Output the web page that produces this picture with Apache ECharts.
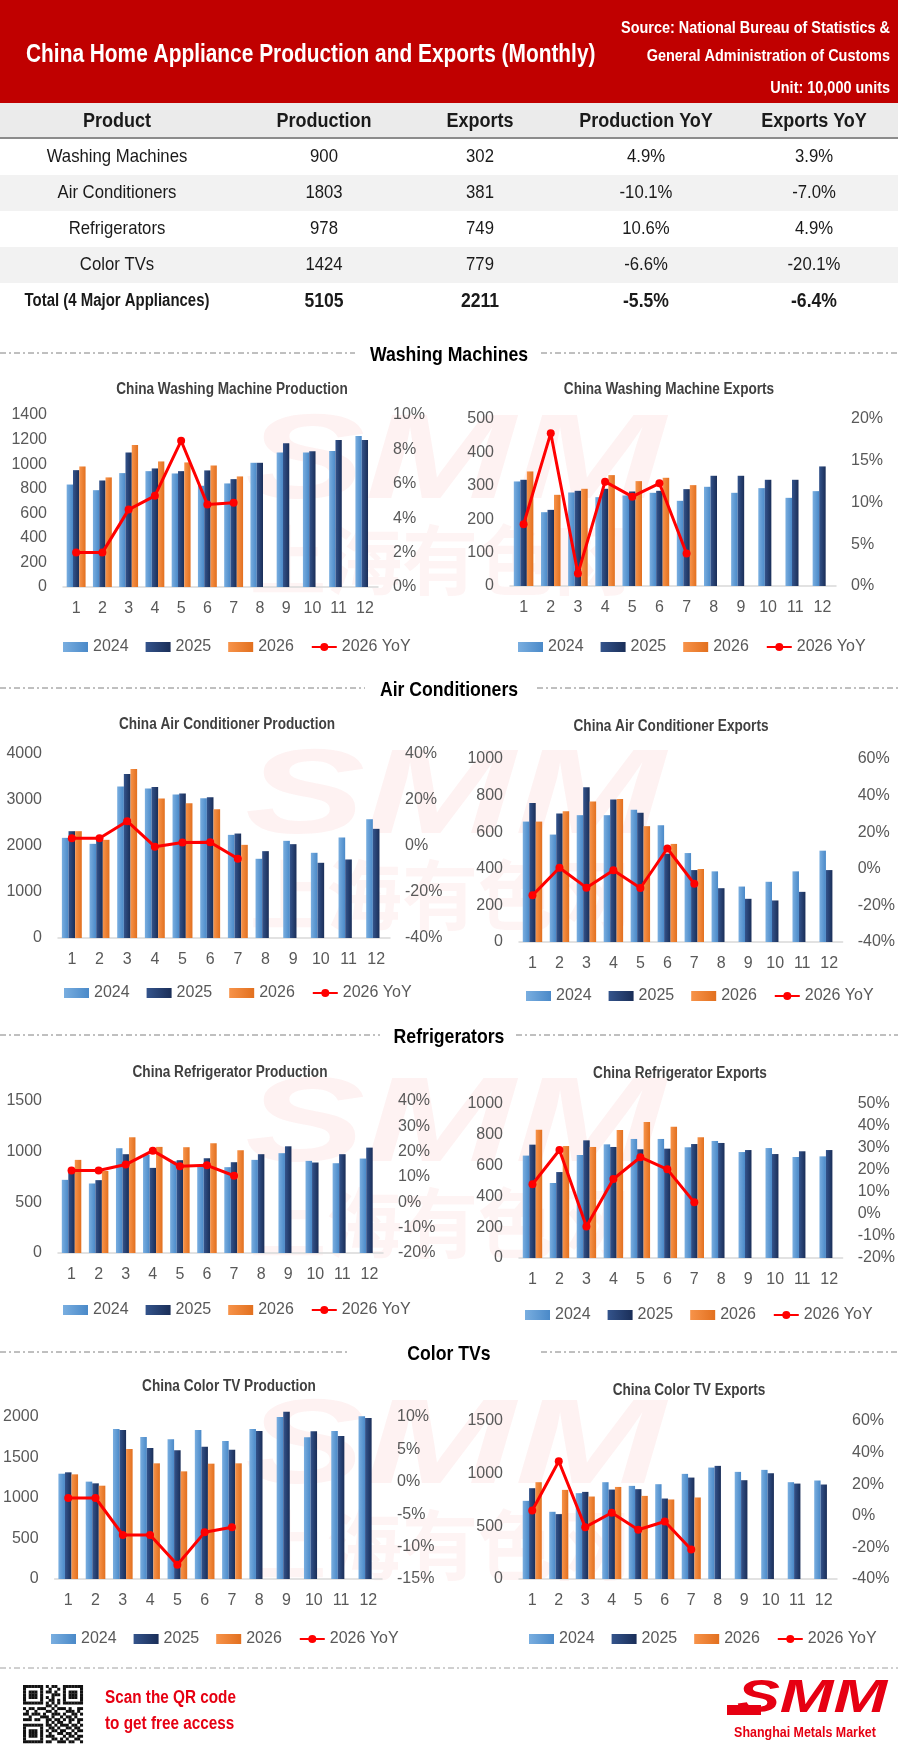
<!DOCTYPE html>
<html>
<head>
<meta charset="utf-8">
<title>China Home Appliance Production and Exports (Monthly)</title>
<script src="https://cdn.jsdelivr.net/npm/echarts@6/dist/echarts.min.js"></script>
<style>
  html, body { margin: 0; padding: 0; background: #fff; }
  #main { width: 898px; height: 1752px; }
</style>
</head>
<body>
<div id="main"></div>
<script>
// months on the x axis
const months = ['1', '2', '3', '4', '5', '6', '7', '8', '9', '10', '11', '12'];
const seriesNames = ['2024', '2025', '2026', '2026 YoY'];

// summary table
const tableHeader = ['Product', 'Production', 'Exports', 'Production YoY', 'Exports YoY'];
const products = ['Washing Machines', 'Air Conditioners', 'Refrigerators', 'Color TVs', 'Total (4 Major Appliances)'];
const production = [900, 1803, 978, 1424, 5105];
const exportsVol = [302, 381, 749, 779, 2211];
const prodYoY = ['4.9%', '-10.1%', '10.6%', '-6.6%', '-5.5%'];
const expYoY = ['3.9%', '-7.0%', '4.9%', '-20.1%', '-6.4%'];

// washing machines
const wmProd2024 = [834, 788, 927, 943, 924, 824, 843, 1011, 1095, 1095, 1106, 1229];
const wmProd2025 = [951, 867, 1095, 965, 943, 949, 878, 1011, 1171, 1104, 1196, 1196];
const wmProd2026 = [981, 892, 1155, 1022, 1014, 989, 900];
const wmProdYoY = [2.0, 2.0, 4.5, 5.3, 8.5, 4.8, 4.9];
const wmExp2024 = [313, 221, 280, 266, 271, 279, 255, 297, 279, 293, 264, 284];
const wmExp2025 = [318, 228, 285, 291, 283, 285, 290, 330, 330, 318, 318, 358];
const wmExp2026 = [343, 273, 291, 332, 314, 324, 302];
const wmExpYoY = [7.4, 18.3, 1.5, 12.5, 10.7, 12.3, 3.9];

// air conditioners
const acProd2024 = [2177, 2047, 3291, 3248, 3118, 3038, 2242, 1722, 2112, 1852, 2185, 2582];
const acProd2025 = [2322, 2150, 3566, 3284, 3139, 3060, 2271, 1888, 2040, 1635, 1707, 2373];
const acProd2026 = [2322, 2134, 3675, 3031, 2929, 2799, 2025];
const acProdYoY = [3.4, 3.4, 10.8, -0.3, 1.5, 1.6, -5.5];
const acExp2024 = [658, 587, 693, 693, 722, 638, 486, 386, 303, 329, 386, 499];
const acExp2025 = [759, 702, 846, 779, 706, 483, 393, 294, 236, 227, 274, 393];
const acExp2026 = [658, 715, 768, 782, 633, 536, 399];
const acExpYoY = [-14.5, 0.6, -10.3, -0.8, -10.5, 11.1, -8.2];

// refrigerators
const rfProd2024 = [722, 686, 1034, 971, 905, 870, 847, 919, 985, 909, 886, 932];
const rfProd2025 = [820, 719, 975, 840, 916, 935, 896, 975, 1053, 893, 975, 1040];
const rfProd2026 = [919, 810, 1142, 1047, 1044, 1083, 1014];
const rfProdYoY = [12.6, 12.6, 14.9, 20.4, 14.2, 14.6, 10.5];
const rfExp2024 = [665, 487, 669, 738, 773, 773, 719, 760, 688, 714, 656, 660];
const rfExp2025 = [736, 558, 764, 721, 706, 710, 740, 747, 701, 675, 693, 701];
const rfExp2026 = [833, 727, 721, 831, 883, 853, 784];
const rfExpYoY = [13.5, 29.1, -5.7, 15.9, 25.8, 20.3, 5.3];

// color TVs
const tvProd2024 = [1300, 1202, 1852, 1753, 1724, 1840, 1704, 1852, 2000, 1749, 1827, 2008];
const tvProd2025 = [1317, 1181, 1840, 1617, 1588, 1634, 1597, 1827, 2066, 1823, 1765, 1988];
const tvProd2026 = [1292, 1152, 1605, 1428, 1329, 1424, 1428];
const tvProdYoY = [-2.5, -2.5, -8.2, -8.2, -12.8, -7.8, -7.0];
const tvExp2024 = [742, 638, 815, 919, 884, 900, 998, 1058, 1017, 1036, 919, 935];
const tvExp2025 = [862, 616, 827, 849, 853, 764, 963, 1074, 938, 1004, 906, 897];
const tvExp2026 = [919, 846, 783, 874, 789, 755, 774];
const tvExpYoY = [3.4, 34.5, -7.2, 1.9, -8.8, -3.6, -21.3];

const FONT = '"Liberation Sans", Arial, sans-serif';
const RED = '#C00000';
const SQ = 0.85; // horizontal squeeze for the condensed look of the original lettering

// layout of the 8 small charts
const charts = [
  { title: 'China Washing Machine Production', d: [wmProd2024, wmProd2025, wmProd2026, wmProdYoY],
    grid: { left: 63, top: 415, width: 315, height: 172 }, l: [0, 1400, 200], r: [0, 10, 2], tx: 232, ty: 390, lx: 58, ly: 643 },
  { title: 'China Washing Machine Exports', d: [wmExp2024, wmExp2025, wmExp2026, wmExpYoY],
    grid: { left: 510, top: 419, width: 326, height: 167 }, l: [0, 500, 100], r: [0, 20, 5], tx: 669, ty: 390, lx: 513, ly: 643 },
  { title: 'China Air Conditioner Production', d: [acProd2024, acProd2025, acProd2026, acProdYoY],
    grid: { left: 58, top: 754, width: 332, height: 184 }, l: [0, 4000, 1000], r: [-40, 40, 20], tx: 227, ty: 725, lx: 59, ly: 989 },
  { title: 'China Air Conditioner Exports', d: [acExp2024, acExp2025, acExp2026, acExpYoY],
    grid: { left: 519, top: 759, width: 324, height: 183 }, l: [0, 1000, 200], r: [-40, 60, 20], tx: 671, ty: 727, lx: 521, ly: 992 },
  { title: 'China Refrigerator Production', d: [rfProd2024, rfProd2025, rfProd2026, rfProdYoY],
    grid: { left: 58, top: 1101, width: 325, height: 152 }, l: [0, 1500, 500], r: [-20, 40, 10], tx: 230, ty: 1073, lx: 58, ly: 1306 },
  { title: 'China Refrigerator Exports', d: [rfExp2024, rfExp2025, rfExp2026, rfExpYoY],
    grid: { left: 519, top: 1104, width: 324, height: 154 }, l: [0, 1000, 200], r: [-20, 50, 10], tx: 680, ty: 1074, lx: 520, ly: 1311 },
  { title: 'China Color TV Production', d: [tvProd2024, tvProd2025, tvProd2026, tvProdYoY],
    grid: { left: 53, top: 1417, width: 329, height: 162 }, l: [0, 2000, 500], r: [-15, 10, 5], tx: 229, ty: 1387, lx: 46, ly: 1635 },
  { title: 'China Color TV Exports', d: [tvExp2024, tvExp2025, tvExp2026, tvExpYoY],
    grid: { left: 519, top: 1421, width: 318, height: 158 }, l: [0, 1500, 500], r: [-40, 60, 20], tx: 689, ty: 1391, lx: 524, ly: 1635 }
];

const sections = [
  { name: 'Washing Machines', y: 355, l: 355, r: 541 },
  { name: 'Air Conditioners', y: 690, l: 365, r: 537 },
  { name: 'Refrigerators', y: 1037, l: 380, r: 516 },
  { name: 'Color TVs', y: 1354, l: 347, r: 541 }
];

function grad(a, b) {
  return new echarts.graphic.LinearGradient(0, 0, 1, 0, [{ offset: 0, color: a }, { offset: 1, color: b }]);
}
const barColors = [grad('#79AEE0', '#4A89C8'), grad('#34548C', '#1A2E58'), grad('#F7934A', '#E2701F')];

const grids = [], xAxes = [], yAxes = [], series = [], legends = [];
charts.forEach((c, i) => {
  grids.push(c.grid);
  xAxes.push({
    gridIndex: i, type: 'category', data: months,
    axisTick: { show: false },
    axisLine: { lineStyle: { color: '#D9D9D9', width: 1.5 } },
    axisLabel: { color: '#595959', fontSize: 16, margin: 14, fontFamily: FONT, interval: 0 }
  });
  yAxes.push({
    gridIndex: i, type: 'value', min: c.l[0], max: c.l[1], interval: c.l[2],
    splitLine: { show: false }, axisLine: { show: false }, axisTick: { show: false },
    axisLabel: { color: '#595959', fontSize: 16, margin: 16, fontFamily: FONT, formatter: v => String(v) }
  });
  yAxes.push({
    gridIndex: i, type: 'value', position: 'right', min: c.r[0], max: c.r[1], interval: c.r[2],
    splitLine: { show: false }, axisLine: { show: false }, axisTick: { show: false },
    axisLabel: { color: '#595959', fontSize: 16, margin: 15, fontFamily: FONT, formatter: v => v + '%' }
  });
  for (let k = 0; k < 3; k++) {
    series.push({
      name: seriesNames[k], type: 'bar', xAxisIndex: i, yAxisIndex: 2 * i,
      data: c.d[k], barWidth: '24%', barGap: '0%', clip: false,
      itemStyle: { color: barColors[k] }
    });
  }
  series.push({
    name: seriesNames[3], type: 'line', xAxisIndex: i, yAxisIndex: 2 * i + 1, z: 5,
    data: c.d[3], symbol: 'circle', symbolSize: 8,
    lineStyle: { color: '#FF0000', width: 3 }, itemStyle: { color: '#FF0000' }
  });
  legends.push({
    left: c.lx, top: c.ly - 9, itemWidth: 25, itemHeight: 10, itemGap: 17,
    textStyle: { color: '#595959', fontSize: 16, fontFamily: FONT },
    data: [
      { name: '2024', icon: 'rect' }, { name: '2025', icon: 'rect' },
      { name: '2026', icon: 'rect' }, { name: '2026 YoY' }
    ]
  });
});

// graphic elements: header, table, headings, footer, watermarks
const g = [];
function txt(x, y, text, font, fill, align, extra) {
  g.push(Object.assign({
    type: 'text', x: x, y: y, silent: true, scaleX: SQ,
    style: { text: text, font: font, fill: fill, textAlign: align || 'center', textVerticalAlign: 'middle' }
  }, extra || {}));
}

// watermarks (behind charts)
[465, 800, 1128, 1450].forEach(y => {
  txt(455, y, 'SMM', 'bold italic 120px ' + FONT, 'rgba(230,30,30,0.06)', 'center', { z: -10, scaleX: 1.5 });
  txt(440, y + 95, '上海有色网', 'bold 76px "Noto Sans CJK SC"', 'rgba(230,30,30,0.05)', 'center', { z: -10, scaleX: 1 });
});

// header band
g.push({ type: 'rect', shape: { x: 0, y: 0, width: 898, height: 103 }, style: { fill: RED }, silent: true });
txt(26, 55, 'China Home Appliance Production and Exports (Monthly)', 'bold 25px ' + FONT, '#fff', 'left', { scaleX: 0.835 });
txt(890, 28, 'Source: National Bureau of Statistics &', 'bold 17px ' + FONT, '#fff', 'right');
txt(890, 56, 'General Administration of Customs', 'bold 17px ' + FONT, '#fff', 'right');
txt(890, 88, 'Unit: 10,000 units', 'bold 17px ' + FONT, '#fff', 'right');

// table
const colX = [117, 324, 480, 646, 814];
g.push({ type: 'rect', shape: { x: 0, y: 103, width: 898, height: 35 }, style: { fill: '#EBEBEB' }, silent: true });
g.push({ type: 'line', shape: { x1: 0, y1: 138, x2: 898, y2: 138 }, style: { stroke: '#8C8C8C', lineWidth: 2 }, silent: true });
tableHeader.forEach((h, j) => txt(colX[j], 121, h, 'bold 20px ' + FONT, '#1a1a1a', 'center', { scaleX: 0.9 }));
products.forEach((p, r) => {
  const y0 = 139 + r * 36;
  if (r % 2 === 1) {
    g.push({ type: 'rect', shape: { x: 0, y: y0, width: 898, height: 36 }, style: { fill: '#F2F2F2' }, silent: true });
  }
  const total = r === products.length - 1;
  const cells = [p, String(production[r]), String(exportsVol[r]), prodYoY[r], expYoY[r]];
  cells.forEach((v, j) => {
    const f = total ? (j === 0 ? 'bold 18px ' : 'bold 20px ') + FONT : '19px ' + FONT;
    txt(colX[j], y0 + 18, v, f, '#1a1a1a', 'center', { scaleX: total && j === 0 ? 0.83 : 0.88 });
  });
});

// section headings with dash-dot rules
sections.forEach(s => {
  txt(449, s.y, s.name, 'bold 21px ' + FONT, '#000', 'center', { scaleX: 0.84 });
  g.push({ type: 'line', shape: { x1: 0, y1: s.y - 2, x2: s.l, y2: s.y - 2 }, style: { stroke: '#808080', lineWidth: 1, lineDash: [6, 3, 2, 3] }, silent: true });
  g.push({ type: 'line', shape: { x1: s.r, y1: s.y - 2, x2: 898, y2: s.y - 2 }, style: { stroke: '#808080', lineWidth: 1, lineDash: [6, 3, 2, 3] }, silent: true });
});

// chart titles
charts.forEach(c => txt(c.tx, c.ty, c.title, 'bold 16px ' + FONT, '#404040'));

// footer
g.push({ type: 'line', shape: { x1: 0, y1: 1668, x2: 898, y2: 1668 }, style: { stroke: '#A0A0A0', lineWidth: 1, lineDash: [6, 3, 2, 3] }, silent: true });
const qr = [
  '111111101011001111111', '100000100100101000001', '101110101101001011101', '101110100011101011101',
  '101110101010001011101', '100000100110101000001', '111111101010101111111', '000000001101000000000',
  '101101110010111010011', '010010001101000111010', '110111010011101001101', '001000111010010110100',
  '111011001101101011011', '000000001010110010010', '111111101101011101101', '100000100110100110110',
  '101110101011011001011', '101110100100110110100', '101110101110001011011', '100000100011010100110',
  '111111101100111011001'
];
const qs = 2.85;
qr.forEach((row, r) => {
  for (let k = 0; k < row.length; k++) {
    if (row[k] === '1') {
      g.push({ type: 'rect', shape: { x: 23 + k * qs, y: 1685 + r * qs * 0.97, width: qs + 0.2, height: qs * 0.97 + 0.2 }, style: { fill: '#111' }, silent: true });
    }
  }
});
txt(105, 1698, 'Scan the QR code', 'bold 18px ' + FONT, '#E60012', 'left');
txt(105, 1724, 'to get free access', 'bold 18px ' + FONT, '#E60012', 'left');
g.push({ type: 'rect', shape: { x: 727, y: 1705, width: 34, height: 10 }, style: { fill: '#E60012' }, silent: true });
txt(812, 1699, 'SMM', 'bold italic 46px ' + FONT, '#E60012', 'center', { scaleX: 1.4 });
txt(805, 1733, 'Shanghai Metals Market', 'bold 15px ' + FONT, '#E60012', 'center', { scaleX: 0.83 });

const chart = echarts.init(document.getElementById('main'), null, { renderer: 'canvas' });
chart.setOption({
  animation: false,
  backgroundColor: '#ffffff',
  textStyle: { fontFamily: FONT },
  grid: grids,
  xAxis: xAxes,
  yAxis: yAxes,
  legend: legends,
  series: series,
  graphic: { elements: g }
});
</script>
</body>
</html>
